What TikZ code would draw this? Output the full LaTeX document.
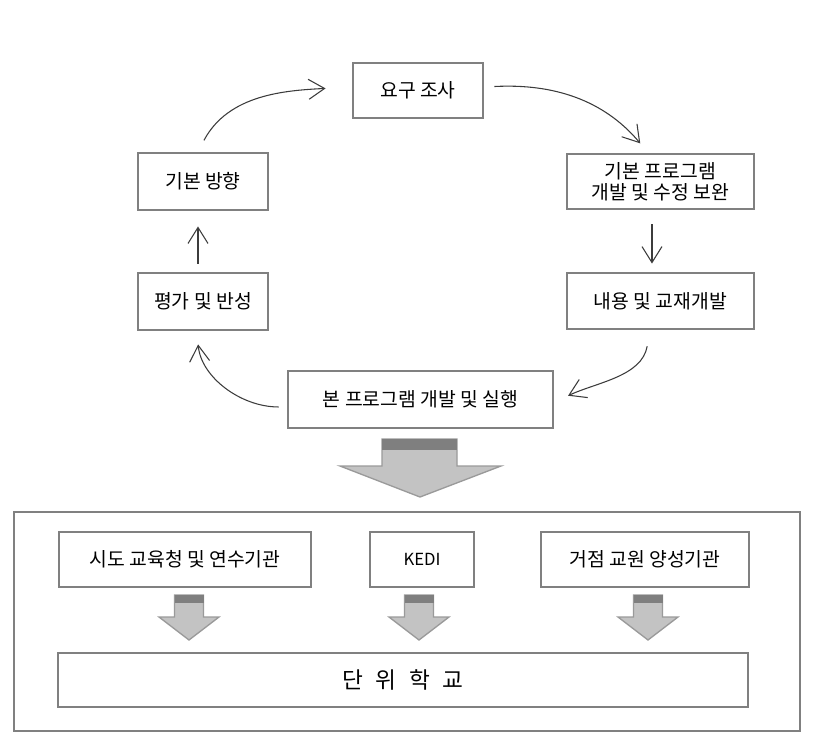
\documentclass[tikz,border=0pt]{standalone}
\usepackage{fontspec}
\setmainfont{Noto Sans CJK KR}
\usetikzlibrary{arrows.meta}
\definecolor{boxgray}{HTML}{808080}
\definecolor{linegray}{HTML}{3C3C3C}
\definecolor{arrowfill}{HTML}{C3C3C3}
\definecolor{arrowedge}{HTML}{9A9A9A}
\definecolor{capgray}{HTML}{7F7F7F}
\begin{document}
\begin{tikzpicture}[x=0.75pt,y=0.75pt,
	box/.style={draw=boxgray, line width=2.2pt, fill=white, inner sep=0pt, align=center, font=\fontsize{14.5pt}{19pt}\selectfont},
	conn/.style={draw=linegray, line width=0.8pt, -{Straight Barb[length=12pt,width=15pt]}},
	blockarrow/.style={fill=arrowfill, draw=arrowedge, line width=1pt}]
	\useasboundingbox (0,0) rectangle (820,-744);
	% cycle
	\node[box, minimum width=97.5pt, minimum height=41.25pt] (req) at (418,-90.5) {요구 조사};
	\node[box, minimum width=97.5pt, minimum height=42.75pt] (dir) at (203,-181.5) {기본 방향};
	\node[box, minimum width=140.25pt, minimum height=41.25pt] (prog) at (660.5,-181.5) {기본 프로그램\\[-3pt]개발 및 수정 보완};
	\node[box, minimum width=97.5pt, minimum height=42.75pt] (eval) at (203,-301.5) {평가 및 반성};
	\node[box, minimum width=140.25pt, minimum height=42pt] (dev) at (660.5,-301) {내용 및 교재개발};
	\node[box, minimum width=198.75pt, minimum height=42.75pt] (impl) at (420.5,-399.5) {본 프로그램 개발 및 실행};
	
	\draw[conn, shorten <=9.5pt, shorten >=19.5pt] ([xshift=-3.75pt]dir.north) to[out=62,in=183] ([yshift=2.6pt]req.west);
	\draw[conn, shorten <=7.5pt, shorten >=9pt] ([yshift=2.6pt]req.east) to[out=3,in=130] ([xshift=-9.4pt]prog.north);
	\draw[conn, shorten <=10.5pt, shorten >=6pt] ([xshift=-6.4pt]prog.south) -- ([xshift=-6.4pt]dev.north);
	\draw[conn, shorten <=12pt, shorten >=11.25pt] ([xshift=-7.9pt]dev.south) to[out=-100,in=25] ([yshift=-1.9pt]impl.east);
	\draw[conn, shorten <=6pt, shorten >=9.75pt] ([yshift=-5.6pt]impl.west) to[out=180,in=-85] ([xshift=-4.5pt]eval.south);
	\draw[conn, shorten <=6pt, shorten >=11.25pt] ([xshift=-3.75pt]eval.north) -- ([xshift=-3.75pt]dir.south);
	
	% big arrow
	\draw[blockarrow] (382,-439) -- (457,-439) -- (457,-466) -- (501,-466) -- (420,-497) -- (340,-466) -- (382,-466) -- cycle;
	\fill[capgray] (382,-439) rectangle (457,-450);
	
	% schools
	\draw[draw=boxgray, line width=2.2pt] (14,-512) rectangle (800,-731);
	\node[box, minimum width=189pt, minimum height=41.25pt] (sido) at (185,-559.5) {시도 교육청 및 연수기관};
	\node[box, minimum width=78pt, minimum height=41.25pt, font=\fontsize{12.5pt}{15pt}\selectfont] (kedi) at (422,-559.5) {KEDI};
	\node[box, minimum width=156pt, minimum height=41.25pt] (geo) at (645,-559.5) {거점 교원 양성기관};
	\node[box, minimum width=517.5pt, minimum height=40.5pt, font=\fontsize{17pt}{20pt}\selectfont] (unit) at (403,-680) {\spaceskip=0.55em 단 위 학 교};
	
	\foreach \cx in {189,419,648} {
		\draw[blockarrow] (\cx-14.5,-595) -- (\cx+14.5,-595) -- (\cx+14.5,-617) -- (\cx+30,-617) -- (\cx,-640) -- (\cx-30,-617) -- (\cx-14.5,-617) -- cycle;
		\fill[capgray] (\cx-14.5,-595) rectangle (\cx+14.5,-603);
	}
\end{tikzpicture}
\end{document}
